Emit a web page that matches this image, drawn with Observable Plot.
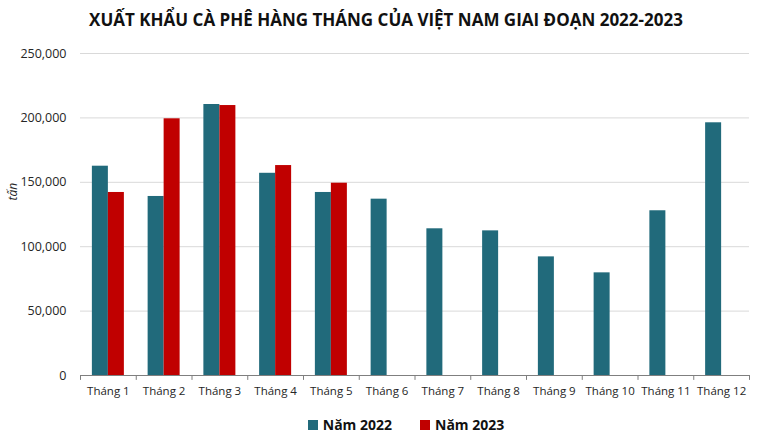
<!DOCTYPE html>
<html>
<head>
<meta charset="utf-8">
<script src="https://cdn.jsdelivr.net/npm/d3@7"></script>
<script src="https://cdn.jsdelivr.net/npm/@observablehq/plot@0.6"></script>
<style>
  body { margin: 0; background: #fff; font-family: "Open Sans", sans-serif; }
  #wrap { width: 772px; height: 446px; position: relative; }
  #title { height: 40px; line-height: 40px; text-align: center; font-weight: 700; font-size: 17px; color: #111; padding-left: 0px; }
  #legend { display: flex; justify-content: center; gap: 28px; font-weight: 700; font-size: 14px; color: #111; margin-left: 40px; margin-top: 5px; }
  #legend span.sw { display: inline-block; width: 10px; height: 10px; margin-right: 5px; vertical-align: 0px; }
  svg { display: block; }
</style>
</head>
<body>
<div id="wrap">
  <div id="title"></div>
  <div id="chart"></div>
  <div id="legend"></div>
</div>
<script>
const title = "XUẤT KHẨU CÀ PHÊ HÀNG THÁNG CỦA VIỆT NAM GIAI ĐOẠN 2022-2023";
const months = ["Tháng 1","Tháng 2","Tháng 3","Tháng 4","Tháng 5","Tháng 6","Tháng 7","Tháng 8","Tháng 9","Tháng 10","Tháng 11","Tháng 12"];
const values2022 = [162500, 139000, 210400, 157000, 142100, 136900, 113900, 112300, 92100, 79700, 127900, 196200];
const values2023 = [142100, 199300, 209600, 163000, 149300];
const seriesNames = ["Năm 2022", "Năm 2023"];
const seriesColors = ["#216a7b", "#c00000"];
const yTicks = [0, 50000, 100000, 150000, 200000, 250000];
const yLabel = "tấn";

document.getElementById("title").textContent = title;

const d22 = months.map((m, i) => ({month: m, value: values2022[i]}));
const d23 = values2023.map((v, i) => ({month: months[i], value: v}));

const W = 772, H = 370, ML = 80, MR = 23;
const step = (W - ML - MR) / months.length;
const barW = 16;

const chart = Plot.plot({
  width: W,
  height: H,
  marginLeft: ML,
  marginRight: MR,
  marginTop: 13,
  marginBottom: 35,
  style: {fontFamily: "Open Sans, sans-serif", fontSize: "11.5px", color: "#262626", background: "#fff"},
  x: {domain: months, paddingInner: 1 - barW / step, paddingOuter: (1 - barW / step) / 2, round: false, label: null},
  y: {domain: [0, 250000], ticks: yTicks, label: null},
  marks: [
    Plot.ruleY(yTicks.slice(1), {stroke: "#d9d9d9", strokeWidth: 1}),
    Plot.barY(d22, {x: "month", y: "value", fill: seriesColors[0], dx: -barW / 2}),
    Plot.barY(d23, {x: "month", y: "value", fill: seriesColors[1], dx: barW / 2}),
    Plot.ruleY([0], {stroke: "#7f7f7f", strokeWidth: 1.2}),
    Plot.ruleX(months, {x: d => d, dx: -step / 2, y1: 0, y2: -3800, stroke: "#7f7f7f"}),
    Plot.ruleX(months.slice(-1), {x: d => d, dx: step / 2, y1: 0, y2: -3800, stroke: "#7f7f7f"}),
    Plot.axisY({ticks: yTicks, tickFormat: d3.format(","), tickSize: 0, tickPadding: 14, label: null, fontSize: 12.5}),
    Plot.axisX({tickSize: 0, tickPadding: 11, label: null, fontSize: 11.5}),
    Plot.text([yLabel], {frameAnchor: "left", dx: -67, dy: -14, rotate: -90, fontStyle: "italic", fontSize: 12})
  ]
});
document.getElementById("chart").appendChild(chart);

const legend = document.getElementById("legend");
seriesNames.forEach((n, i) => {
  const item = document.createElement("div");
  item.innerHTML = `<span class="sw" style="background:${seriesColors[i]}"></span>${n}`;
  legend.appendChild(item);
});
</script>
</body>
</html>
